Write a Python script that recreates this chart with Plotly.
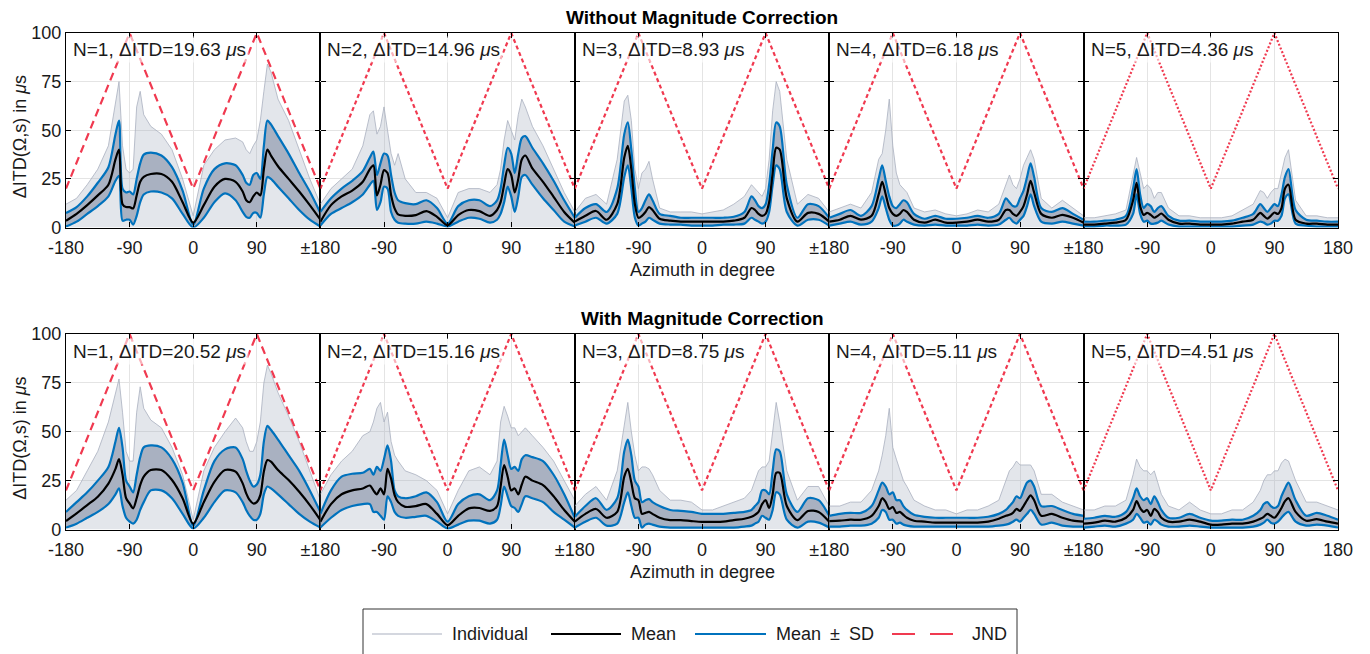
import plotly.graph_objects as go

# ---------------- data ----------------
azimuth = [-180, -165, -150, -135, -120, -110, -105, -100, -95, -90, -85, -80, -75, -70, -60, -45, -30, -15, 0,
           15, 30, 45, 60, 70, 75, 80, 85, 90, 95, 100, 105, 110, 120, 135, 150, 165, 180]

jnd_az = [-180, -90, 0, 90, 180]
jnd_us = [20, 100, 20, 100, 20]

orders = [1, 2, 3, 4, 5]
ditd_without = [19.63, 14.96, 8.93, 6.18, 4.36]
ditd_with = [20.52, 15.16, 8.75, 5.11, 4.51]
row_titles = ["Without Magnitude Correction", "With Magnitude Correction"]

x_tick_vals = [-180, -90, 0, 90, 180]
x_ticks_first = ["-180", "-90", "0", "90", "±180"]
x_ticks_mid = ["", "-90", "0", "90", "±180"]
x_ticks_last = ["", "-90", "0", "90", "180"]
y_tick_vals = [0, 25, 50, 75, 100]

# ---- Without magnitude correction ----
mean_wo_1 = [3.5, 7, 11.5, 16.5, 22, 35, 40, 12, 10.5, 10.5, 9.8, 16.5, 23.5, 26, 27.5, 27.5, 23.5, 13, 2.5,
             11.5, 21, 25, 23.5, 18.5, 14, 13, 16, 18, 16.5, 30, 40, 37, 31.5, 25, 18.5, 11.5, 4]
hi_wo_1 = [7.5, 10.5, 16, 23, 31, 48, 55, 20, 18, 18.5, 17, 25, 33, 37.5, 38.5, 37, 31, 19, 1.5,
           20, 30, 33, 32, 27, 23, 22, 27, 28, 25, 42, 55, 53, 47, 38, 28, 18.5, 7.5]
lo_wo_1 = [0.5, 3, 7, 11, 16, 24, 26.5, 3.5, 4, 4, 1.5, 6, 13, 17, 18.5, 18, 15, 7, 0,
           5, 13, 17.5, 14, 8, 5.5, 5, 7.5, 7.5, 5, 17, 26, 25, 21, 15, 9, 4, 0.5]
max_wo_1 = [12, 15, 22, 30, 42, 65, 75, 42, 30, 28, 30, 62, 70, 58, 52, 48, 40, 25, 6,
            32, 40, 45, 46, 44, 40, 38, 42, 45, 55, 70, 84, 80, 66, 55, 40, 25, 12]

mean_wo_2 = [3, 11.5, 16, 19, 23.5, 30, 32, 16.5, 22, 29.5, 28, 16.7, 9.8, 6.7, 6, 6.4, 8.4, 5.5, 1.2,
             6.4, 9, 8.4, 6, 9, 13, 22, 30, 27, 18, 25, 35, 37, 30.4, 23.5, 15.8, 8, 2.4]
hi_wo_2 = [8, 15, 20, 24, 29, 36, 39, 27, 33, 38, 37, 27, 18, 14, 12.5, 12, 14, 10, 2,
           11, 14, 14, 11, 14, 20, 32, 41, 38, 28, 38, 46, 47, 41, 33, 24, 14, 5]
lo_wo_2 = [1, 7, 10, 13, 17, 22, 24, 9, 13, 21, 20, 8, 4, 2.5, 2, 2, 3, 2, 0.5,
           3, 5, 4.5, 2.5, 4, 7, 13, 21, 16, 8, 16, 26, 27, 22, 15, 9, 3, 0.5]
max_wo_2 = [12, 20, 25, 30, 42, 58, 60, 48, 52, 62, 50, 38, 32, 38, 25, 18, 18, 15, 5,
            18, 20, 20, 18, 22, 30, 45, 55, 50, 45, 58, 66, 62, 52, 42, 30, 18, 8]

mean_wo_3 = [3, 6, 8.5, 4, 12, 36, 42, 30, 12, 5, 6, 8, 10.5, 9, 4.5, 3.5, 3, 3, 3,
             3, 3, 3.5, 5, 10, 9, 7, 6, 7, 13, 28, 41, 40, 15, 3, 7.5, 7, 3]
hi_wo_3 = [5, 10, 12, 8, 20, 48, 54, 40, 20, 8, 10, 14, 17, 14, 7, 6, 5, 5, 5,
           5, 5, 5.5, 8, 16, 14, 11, 10, 12, 22, 40, 54, 52, 22, 5, 12, 11, 5]
lo_wo_3 = [1, 3, 5, 2, 7, 26, 32, 20, 5, 1, 2, 3, 5, 4, 2, 1.5, 1.5, 1, 1,
           1, 1.5, 1.5, 2, 5, 4, 3, 2, 3, 8, 22, 32, 30, 8, 1, 4, 4, 1]
max_wo_3 = [8, 15, 17, 12, 35, 65, 68, 55, 30, 20, 28, 30, 34, 25, 10, 8, 8, 8, 7,
            8, 9, 12, 16, 22, 20, 18, 16, 20, 35, 60, 75, 70, 35, 12, 17, 15, 8]

mean_wo_4 = [3, 4, 6, 4, 6, 17, 23.5, 17, 10, 7, 6, 7, 9, 8, 4, 2.5, 4, 2.5, 2.5,
             3, 4, 3, 4, 9, 9, 7, 6, 8, 11, 17, 24, 18, 7, 5, 6.5, 5, 2.5]
hi_wo_4 = [5, 7, 9, 6, 11, 25, 32, 24, 16, 11, 10, 12, 14, 13, 7, 4.5, 6, 4.5, 4.5,
           5, 6, 5, 7, 15, 13, 11, 11, 15, 19, 26, 33, 26, 10, 8, 10, 7, 4]
lo_wo_4 = [1, 2, 3, 1.5, 3, 10, 16, 10, 4, 1, 1, 2, 4, 3, 1.5, 1, 1.5, 1, 1,
           1, 1.5, 1, 1.5, 4, 5, 3, 2, 4, 6, 11, 17, 11, 3, 2, 3, 2, 1]
max_wo_4 = [8, 10, 12, 10, 18, 35, 38, 50, 66, 42, 28, 22, 20, 18, 10, 8, 9, 7, 6,
            7, 9, 8, 12, 22, 27, 22, 20, 25, 32, 36, 40, 35, 15, 10, 14, 10, 6]

mean_wo_5 = [1.5, 1.5, 2, 2.5, 4, 14, 23, 11, 6.5, 7.5, 6.5, 5, 6, 7.2, 4, 2, 2, 1.5, 1.5,
             1.5, 2, 3, 4, 7.5, 6, 4.6, 6, 7.7, 7, 10, 20, 22, 4, 2, 2, 1.5, 1.5]
hi_wo_5 = [3, 3, 3.5, 4, 6, 20, 30, 17, 10, 12, 11, 8, 10, 11, 6, 3.5, 3.5, 3, 3,
           3, 3.5, 5, 7, 12, 10, 8, 10, 12, 11, 17, 26, 30, 9, 4, 3.5, 3, 3]
lo_wo_5 = [0.5, 0.5, 1, 1, 1.5, 7, 17, 7, 3, 3.5, 2, 2, 2.5, 3.5, 1.5, 0.5, 0.5, 0.5, 0.5,
           0.5, 0.5, 1, 1.5, 3, 2.5, 1.5, 2, 3.5, 3.5, 6, 15, 17, 2, 1, 0.5, 0.5, 0.5]
max_wo_5 = [5, 5, 6, 7, 9, 28, 36, 28, 20, 22, 20, 15, 18, 18, 10, 6, 6, 5, 5,
            5, 6, 9, 12, 19, 18, 15, 18, 20, 20, 28, 36, 40, 14, 6, 6, 5, 5]

# ---- With magnitude correction ----
mean_w_1 = [4.3, 8.2, 12.5, 16.8, 23.5, 31, 36, 28, 16, 13.3, 10.8, 16, 22.7, 27, 30.4, 30.4, 25.3, 16, 3,
            14, 24.4, 30.4, 29.6, 23.6, 18.5, 15, 13.3, 14, 17.6, 29.6, 35.5, 34.7, 30.4, 25.3, 19.3, 12.5, 4.8]
hi_w_1 = [9, 14, 19, 25, 32, 45, 52, 42, 25, 22, 19, 28, 37, 42, 43, 42, 36, 24, 2,
          20, 35, 41, 42, 36, 30, 25, 22, 23, 28, 45, 53, 51, 46, 38, 30, 20, 9]
lo_w_1 = [1, 3, 6, 9, 13, 18, 21, 12, 6, 4, 3, 5, 10, 14, 20, 20, 16, 8, 0.5,
          6, 14, 20, 19, 14, 10, 7, 5, 5, 8, 18, 22, 21, 18, 13, 8, 4, 1]
max_w_1 = [15, 20, 30, 40, 55, 70, 77, 60, 40, 35, 35, 60, 73, 62, 56, 52, 42, 28, 5,
           30, 42, 50, 57, 52, 45, 40, 40, 45, 55, 75, 84, 80, 70, 58, 45, 30, 15]

mean_w_2 = [4, 13, 18, 20, 21, 22.5, 20, 18, 21, 18, 31, 26, 17.6, 14, 11.6, 12, 13, 8, 2.2,
            7, 10.8, 11, 9.5, 12, 22, 33, 27, 20, 21, 18, 23, 27, 25, 22.7, 17, 10, 4]
hi_w_2 = [8, 20, 27, 28.5, 29, 31, 28, 32, 30, 36, 43, 35, 20, 17, 16, 17, 19, 14, 4,
          13, 17, 18, 15, 20, 33, 46, 38, 31, 32, 30, 36, 38, 37, 35, 28, 18, 6]
lo_w_2 = [1, 6, 10, 12, 13, 13, 9, 9, 7, 5, 17, 14, 9, 7, 6, 6.5, 7, 4, 0.5,
          2.5, 4.5, 4.5, 3, 5, 12, 22, 17, 12, 11, 9, 13, 17, 16, 14, 9, 5, 1]
max_w_2 = [18, 28, 35, 40, 48, 50, 55, 62, 65, 55, 60, 45, 38, 35, 30, 28, 25, 20, 8,
           20, 30, 32, 28, 35, 55, 63, 58, 52, 52, 48, 50, 52, 48, 42, 35, 25, 15]

mean_w_3 = [4, 8, 10.5, 6, 9, 27, 31, 24, 16, 15, 8, 8.5, 9, 8, 6, 4.8, 4.8, 4.3, 3.9,
            3.9, 4, 4.8, 5.5, 6.5, 7.5, 9, 13, 15, 11, 18, 29, 29, 12, 4.8, 9.5, 9, 4]
hi_w_3 = [6.5, 12, 16, 10, 16, 40, 46, 38, 25, 22, 14, 15, 15.5, 14, 12, 10, 9.5, 9, 8,
          8, 8, 8.5, 9, 10, 12, 14, 20, 20, 18, 30, 41, 40, 18, 9, 16, 15, 7]
lo_w_3 = [1, 4, 6, 2, 3, 14, 19, 12, 6, 6, 1, 2.5, 3, 2.5, 1.5, 1, 1, 1, 1,
          1, 1, 1, 1.5, 2, 3, 4, 7, 6, 5, 10, 19, 18, 5, 1, 4, 3.5, 1]
max_w_3 = [12, 18, 22, 15, 30, 55, 65, 50, 38, 30, 32, 32, 31, 28, 20, 15, 15, 14, 10,
           10, 12, 14, 16, 20, 25, 30, 32, 32, 35, 50, 65, 55, 30, 15, 22, 22, 12]

mean_w_4 = [4.3, 4.5, 5, 5, 7, 12, 16, 14, 10.5, 11.5, 8.5, 9, 7.5, 6, 4.5, 4, 3.5, 3.5, 3.5,
            3.5, 3.5, 4, 5.5, 7, 7.5, 8.5, 10.5, 9.5, 12, 15, 17.5, 15, 7, 8, 6, 4.5, 4]
hi_w_4 = [7, 8, 8.5, 8.5, 12, 20, 24, 22, 18, 19, 15, 15, 12, 10, 7.5, 6.5, 6, 6, 6,
          6, 6, 6.5, 8, 10, 12, 14, 17, 16, 20, 24, 25, 22, 12, 12, 10, 8, 7]
lo_w_4 = [1.5, 1.5, 2, 2, 3, 6, 10, 9, 5, 5, 3, 3.5, 2.5, 2, 1.5, 1.5, 1.5, 1.5, 1.5,
          1.5, 1.5, 1.5, 2, 2.5, 3, 4, 5, 4, 6, 8, 10, 8, 2.5, 3.5, 2, 1.5, 1.5]
max_w_4 = [12, 12, 14, 14, 20, 30, 38, 48, 62, 42, 36, 30, 25, 22, 15, 12, 10, 10, 8,
           10, 10, 12, 15, 25, 30, 32, 35, 33, 33, 33, 33, 30, 18, 18, 14, 12, 10]

mean_w_5 = [3, 3.5, 4.5, 4, 6, 10, 14.5, 11, 9, 10, 7, 10.5, 9, 6, 4, 4, 5, 4, 2.5,
            2.5, 3, 3, 4, 5.5, 6.5, 8, 7, 6, 8, 11, 14.5, 16, 9, 4.5, 5.3, 4, 3]
hi_w_5 = [5.5, 6, 7, 6.5, 9, 16, 21, 17, 15, 16, 13, 17, 14, 10, 6, 6, 8, 6, 4.5,
          4.5, 5, 5, 7, 10, 13, 14, 12, 11, 12, 17, 21, 24, 15, 7, 8.5, 7, 5]
lo_w_5 = [1, 1.5, 2, 1.5, 3, 5, 8, 6, 3.5, 4, 2.5, 5, 4, 2.5, 1.5, 1.5, 2, 1.5, 1,
          1, 1, 1, 1.5, 2.5, 3.5, 5, 3.5, 3, 4, 6, 8, 9, 4, 2, 2.5, 2, 1]
max_w_5 = [10, 10, 12, 12, 15, 28, 36, 32, 30, 30, 28, 30, 24, 18, 12, 10, 14, 10, 8,
           8, 10, 10, 14, 20, 25, 28, 28, 30, 30, 34, 36, 35, 25, 14, 14, 12, 10]

rows = [
    dict(ditd=ditd_without,
         mean=[mean_wo_1, mean_wo_2, mean_wo_3, mean_wo_4, mean_wo_5],
         hi=[hi_wo_1, hi_wo_2, hi_wo_3, hi_wo_4, hi_wo_5],
         lo=[lo_wo_1, lo_wo_2, lo_wo_3, lo_wo_4, lo_wo_5],
         mx=[max_wo_1, max_wo_2, max_wo_3, max_wo_4, max_wo_5]),
    dict(ditd=ditd_with,
         mean=[mean_w_1, mean_w_2, mean_w_3, mean_w_4, mean_w_5],
         hi=[hi_w_1, hi_w_2, hi_w_3, hi_w_4, hi_w_5],
         lo=[lo_w_1, lo_w_2, lo_w_3, lo_w_4, lo_w_5],
         mx=[max_w_1, max_w_2, max_w_3, max_w_4, max_w_5]),
]

# ---------------- style / layout ----------------
SCREEN_W, SCREEN_H = 1370, 654
OFF = 8  # default page body margin
W, H = SCREEN_W - OFF, SCREEN_H - OFF
FONT = "Liberation Sans, Arial, Helvetica, sans-serif"
TXT = "#1a1a1a"
GRAY_LINE = "#a9b0bf"
GRAY_DENSE = "#a9b1c1"
GRAY_LIGHT = "rgba(169,177,193,0.32)"
BLUE = "#0072BD"
RED = "#F03A50"
jnd_dash = ["8px,5px", "4px,3px", "4px,3px", "4px,3px", "2px,2px"]

L0, PW = 66.0, 254.4
row_px = [(33.0, 227.5), (334.0, 529.5)]


def px(x):
    return (x - OFF) / W


def py(y):
    return 1 - (y - OFF) / H


fig = go.Figure()
layout_axes = {}
annotations = []
shapes = []
spline = dict(shape="spline", smoothing=0.8)

for r, row in enumerate(rows):
    top, bot = row_px[r]
    for k in range(5):
        i = r * 5 + k + 1
        xa = "x" if i == 1 else f"x{i}"
        ya = "y" if i == 1 else f"y{i}"
        common = dict(xaxis=xa, yaxis=ya, showlegend=False, hoverinfo="skip")
        # individuals (outer envelope, light)
        fig.add_trace(go.Scatter(x=azimuth, y=row["mx"][k], mode="lines", fill="tozeroy",
                                 fillcolor=GRAY_LIGHT, line=dict(color=GRAY_LINE, width=0.8), **common))
        # dense individual band
        fig.add_trace(go.Scatter(x=azimuth, y=row["lo"][k], mode="lines",
                                 line=dict(color="rgba(0,0,0,0)", width=0, **spline), **common))
        fig.add_trace(go.Scatter(x=azimuth, y=row["hi"][k], mode="lines", fill="tonexty",
                                 fillcolor=GRAY_DENSE,
                                 line=dict(color="rgba(0,0,0,0)", width=0, **spline), **common))
        # mean +- sd
        fig.add_trace(go.Scatter(x=azimuth, y=row["lo"][k], mode="lines",
                                 line=dict(color=BLUE, width=2.2, **spline), **common))
        fig.add_trace(go.Scatter(x=azimuth, y=row["hi"][k], mode="lines",
                                 line=dict(color=BLUE, width=2.2, **spline), **common))
        # mean
        fig.add_trace(go.Scatter(x=azimuth, y=row["mean"][k], mode="lines",
                                 line=dict(color="black", width=2.2, **spline), **common))
        # JND
        fig.add_trace(go.Scatter(x=jnd_az, y=jnd_us, mode="lines",
                                 line=dict(color=RED, width=2.2, dash=jnd_dash[k]), **common))

        if k == 0:
            tt = x_ticks_first
        elif k == 4:
            tt = x_ticks_last
        else:
            tt = x_ticks_mid
        axis_style = dict(showline=True, linecolor="black", linewidth=1.3, mirror="ticks",
                          ticks="inside", ticklen=5, tickwidth=1, tickcolor="black",
                          showgrid=True, gridcolor="#e4e4e4", gridwidth=1, zeroline=False,
                          automargin=False,
                          tickfont=dict(family=FONT, size=18, color=TXT), fixedrange=True)
        layout_axes["xaxis" if i == 1 else f"xaxis{i}"] = dict(
            domain=[px(L0 + PW * k), px(L0 + PW * (k + 1))], range=[-180, 180],
            anchor=ya, tickmode="array", tickvals=x_tick_vals, ticktext=tt,
            ticklabelstandoff=4, **axis_style)
        layout_axes["yaxis" if i == 1 else f"yaxis{i}"] = dict(
            domain=[py(bot), py(top)], range=[0, 100], anchor=xa,
            tickmode="array", tickvals=y_tick_vals, showticklabels=(k == 0), **axis_style)

        annotations.append(dict(
            xref="paper", yref="paper", x=px(L0 + PW * k + 4), y=py(top + 17),
            xanchor="left", yanchor="middle", showarrow=False,
            text=f"N={orders[k]}, ΔITD={row['ditd'][k]:.2f} <i>μ</i>s",
            font=dict(family=FONT, size=19, color=TXT),
            bgcolor="rgba(255,255,255,0.6)", borderpad=2))

    # row title, x title, y title
    annotations.append(dict(xref="paper", yref="paper", x=px(702), y=py(top - 16),
                            xanchor="center", yanchor="middle", showarrow=False,
                            text=f"<b>{row_titles[r]}</b>", font=dict(family=FONT, size=19, color="black")))
    annotations.append(dict(xref="paper", yref="paper", x=px(702), y=py(bot + 42),
                            xanchor="center", yanchor="middle", showarrow=False,
                            text="Azimuth in degree", font=dict(family=FONT, size=18, color=TXT)))
    annotations.append(dict(xref="paper", yref="paper", x=px(20), y=py((top + bot) / 2 + 7),
                            xanchor="center", yanchor="middle", showarrow=False, textangle=-90,
                            text="ΔITD(Ω,s) in <i>μ</i>s", font=dict(family=FONT, size=18, color=TXT)))

# ---------------- legend (drawn manually) ----------------
LY = 634
shapes.append(dict(type="rect", xref="paper", yref="paper", x0=px(363), x1=px(1017), y0=py(668), y1=py(609),
                   line=dict(color="#333333", width=1), fillcolor="white", layer="above"))
legend_items = [
    ("Individual", 372, 442, dict(color=GRAY_LINE, width=1.2), 450),
    ("Mean", 551, 621, dict(color="black", width=2.2), 629),
    ("Mean\u2002±\u2002SD", 695, 766, dict(color=BLUE, width=2.2), 774),
    ("JND", 892, 953, dict(color=RED, width=2.2, dash="23px,15px"), 970),
]
for label, x0, x1, lstyle, tx in legend_items:
    shapes.append(dict(type="line", xref="paper", yref="paper", x0=px(x0), x1=px(x1), y0=py(LY), y1=py(LY),
                       line=lstyle, layer="above"))
    annotations.append(dict(xref="paper", yref="paper", x=px(tx), y=py(LY), xanchor="left", yanchor="middle",
                            showarrow=False, text=label, font=dict(family=FONT, size=18, color=TXT)))

fig.update_layout(width=W, height=H, margin=dict(l=0, r=0, t=0, b=0, autoexpand=False),
                  plot_bgcolor="white", paper_bgcolor="white", showlegend=False,
                  font=dict(family=FONT, size=18, color=TXT),
                  annotations=annotations, shapes=shapes, **layout_axes)

fig.write_html("out.html", config={"displayModeBar": False})
